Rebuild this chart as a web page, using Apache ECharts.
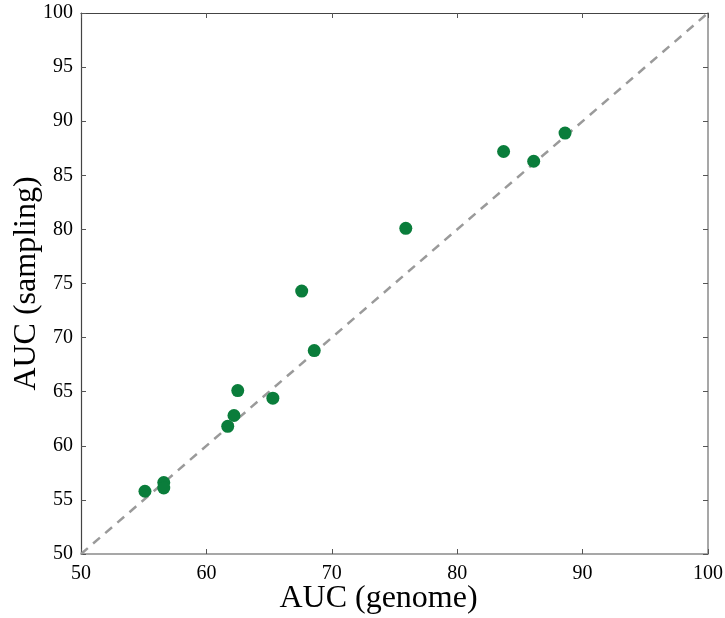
<!DOCTYPE html>
<html>
<head>
<meta charset="utf-8">
<script src="https://cdn.jsdelivr.net/npm/echarts@6/dist/echarts.min.js"></script>
<style>html,body{margin:0;padding:0;background:#fff}#c{width:725px;height:618px}</style>
</head>
<body>
<div id="c"></div>
<script>
const genomeAUC = [55.1, 56.6, 56.6, 61.7, 62.2, 62.5, 65.3, 67.6, 68.6, 75.9, 83.7, 86.1, 88.6];
const samplingAUC = [55.8, 56.6, 56.1, 61.8, 62.8, 65.1, 64.4, 74.3, 68.8, 80.1, 87.2, 86.3, 88.9];
const diagonal = [[50, 50], [100, 100]];
const xTicks = [50, 60, 70, 80, 90, 100];
const yTicks = [50, 55, 60, 65, 70, 75, 80, 85, 90, 95, 100];

const points = genomeAUC.map((g, i) => [g, samplingAUC[i]]);
const font = 'Liberation Serif';
const chart = echarts.init(document.getElementById('c'));
const tickCommon = {show: true, inside: true, length: 5, lineStyle: {color: '#555', width: 1}};
chart.setOption({
  animation: false,
  grid: {left: 81, top: 13, right: 17, bottom: 64, containLabel: false, outerBoundsMode: 'none'},
  xAxis: [
    {type: 'value', position: 'bottom', min: xTicks[0], max: xTicks[xTicks.length - 1], interval: 10,
     name: 'AUC (genome)', nameLocation: 'middle', nameGap: 29, nameMoveOverlap: false,
     nameTextStyle: {fontFamily: font, fontSize: 32, color: '#000', padding: [0, 32, 0, 0]},
     axisLine: {show: true, lineStyle: {color: '#8a8a8a', width: 1.5}},
     axisTick: tickCommon, splitLine: {show: false},
     axisLabel: {fontFamily: font, fontSize: 20, color: '#000', margin: 10}},
    {type: 'value', position: 'top', min: 50, max: 100, interval: 10,
     axisLine: {show: true, lineStyle: {color: '#444', width: 1.2}},
     axisTick: tickCommon, axisLabel: {show: false}, splitLine: {show: false}}
  ],
  yAxis: [
    {type: 'value', position: 'left', min: yTicks[0], max: yTicks[yTicks.length - 1], interval: 5,
     name: 'AUC (sampling)', nameLocation: 'middle', nameGap: 38, nameMoveOverlap: false,
     nameTextStyle: {fontFamily: font, fontSize: 32, color: '#000'},
     axisLine: {show: true, lineStyle: {color: '#444', width: 1.2}},
     axisTick: tickCommon, splitLine: {show: false},
     axisLabel: {fontFamily: font, fontSize: 20, color: '#000', margin: 8}},
    {type: 'value', position: 'right', min: 50, max: 100, interval: 5,
     axisLine: {show: true, lineStyle: {color: '#8a8a8a', width: 1.5}},
     axisTick: tickCommon, axisLabel: {show: false}, splitLine: {show: false}}
  ],
  series: [
    {type: 'line', data: diagonal, xAxisIndex: 0, yAxisIndex: 0, symbol: 'none',
     lineStyle: {color: '#9a9a9a', width: 2.5, type: [9, 7]}, z: 1},
    {type: 'scatter', data: points, xAxisIndex: 0, yAxisIndex: 0, symbolSize: 13,
     itemStyle: {color: '#0a7d3b', opacity: 1}, z: 2}
  ]
});
</script>
</body>
</html>
